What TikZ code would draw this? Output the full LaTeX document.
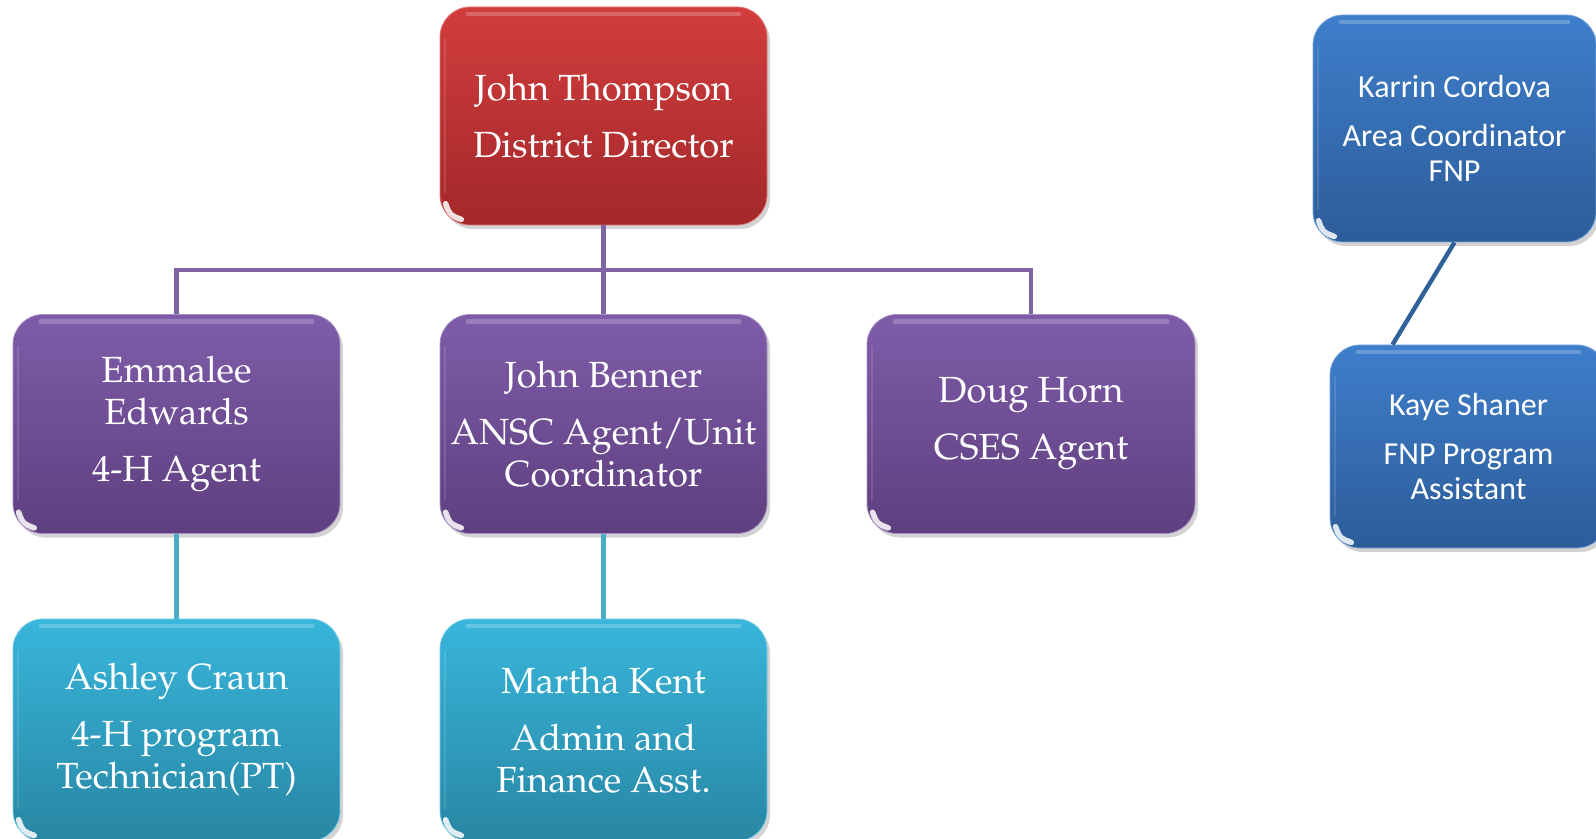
\documentclass[tikz,border=0pt]{standalone}
\usepackage[T1]{fontenc}
\usepackage{fontspec}
\usetikzlibrary{shadows,calc}
\newfontfamily\fnpfont{Carlito}
\newcommand\palfont{\fontencoding{T1}\fontfamily{ppl}\selectfont}

\definecolor{redtop}{HTML}{D23D3D}
\definecolor{redbot}{HTML}{A3282A}
\definecolor{purtop}{HTML}{7F5CA9}
\definecolor{purbot}{HTML}{5E3F7F}
\definecolor{teatop}{HTML}{38B6DB}
\definecolor{teabot}{HTML}{2886A3}
\definecolor{blutop}{HTML}{3E7ECB}
\definecolor{blubot}{HTML}{2D5C99}
\definecolor{purline}{HTML}{8063A2}
\definecolor{tealine}{HTML}{4BACC6}
\definecolor{bluline}{HTML}{2F619B}

\tikzset{
  card/.style={
    rounded corners=15pt, inner sep=0pt, align=center, text=white,
    minimum width=163.5pt, minimum height=109pt,
    drop shadow={opacity=0.35, shadow xshift=1.5pt, shadow yshift=-2pt},
    path picture={
      \draw[white, opacity=0.22, line width=2.4pt, line cap=round]
        ([xshift=14pt,yshift=-3.5pt]path picture bounding box.north west) --
        ([xshift=-14pt,yshift=-3.5pt]path picture bounding box.north east);
      \draw[white, opacity=0.12, line width=1.4pt]
        ([xshift=2.5pt,yshift=-16pt]path picture bounding box.north west) --
        ([xshift=2.5pt,yshift=16pt]path picture bounding box.south west);
      \draw[white, opacity=0.85, line width=2.8pt, line cap=round]
        ([xshift=2.8pt,yshift=10.6pt]path picture bounding box.south west)
        .. controls ([xshift=4.9pt,yshift=4.9pt]path picture bounding box.south west) ..
        ([xshift=10.6pt,yshift=2.8pt]path picture bounding box.south west);
    }},
  redcard/.style={card, draw=redtop!70!white, line width=0.4pt, top color=redtop, bottom color=redbot},
  purcard/.style={card, draw=purtop!70!white, line width=0.4pt, top color=purtop, bottom color=purbot},
  teacard/.style={card, draw=teatop!70!white, line width=0.4pt, top color=teatop, bottom color=teabot},
  blucard/.style={card, draw=blutop!70!white, line width=0.4pt, top color=blutop, bottom color=blubot},
  sertext/.style={font=\palfont\fontsize{18.2}{21}\selectfont},
  santext/.style={font=\fnpfont\fontsize{16}{17.3}\selectfont},
  purlink/.style={draw=purline, line width=2.3pt},
  tealink/.style={draw=tealine, line width=2.4pt},
  blulink/.style={draw=bluline, line width=2.2pt},
}

\begin{document}
\begin{tikzpicture}[x=0.5pt,y=-0.5pt]
  \clip (0,0) rectangle (1596,839);

  % top level
  \node[redcard, sertext] (dir) at (603.5,116) {John Thompson\\[7.5pt]District Director};

  % agents
  \node[purcard, sertext, minimum height=109.5pt] (emm) at (176.5,424) {Emmalee\\Edwards\\[7.5pt]4-H Agent};
  \node[purcard, sertext, minimum height=109.5pt] (ben) at (603.5,424) {John Benner\\[7.5pt]ANSC Agent/Unit\\Coordinator};
  \node[purcard, sertext, minimum height=109.5pt, minimum width=164pt] (dou) at (1031,424) {Doug Horn\\[7.5pt]CSES Agent};

  % support staff
  \node[teacard, sertext, minimum height=111pt] (ash) at (176.5,730) {Ashley Craun\\[7.5pt]4-H program\\Technician(PT)};
  \node[teacard, sertext, minimum height=111pt] (mar) at (603.5,730) {Martha Kent\\[7.5pt]Admin and\\Finance Asst.};

  % FNP branch
  \node[blucard, santext, minimum width=141.5pt, minimum height=113.5pt] (kar) at (1454.5,128.5) {Karrin Cordova\\[7.2pt]Area Coordinator\\FNP};
  \node[blucard, santext, minimum width=138.5pt, minimum height=101.5pt] (kay) at (1468.5,446.5) {Kaye Shaner\\[7.2pt]FNP Program\\Assistant};

  % connectors
  \coordinate (bus) at (0,270);
  \draw[purlink] (dir.south) -- (ben.north);
  \draw[purlink] (emm.north) -- (emm.north |- bus) -- (dou.north |- bus) -- (dou.north);
  \draw[tealink] (emm.south) -- (ash.north);
  \draw[tealink] (ben.south) -- (mar.north);
  \draw[blulink] (kar.south) -- ($(kay.north)+(-76,0)$);
\end{tikzpicture}
\end{document}
